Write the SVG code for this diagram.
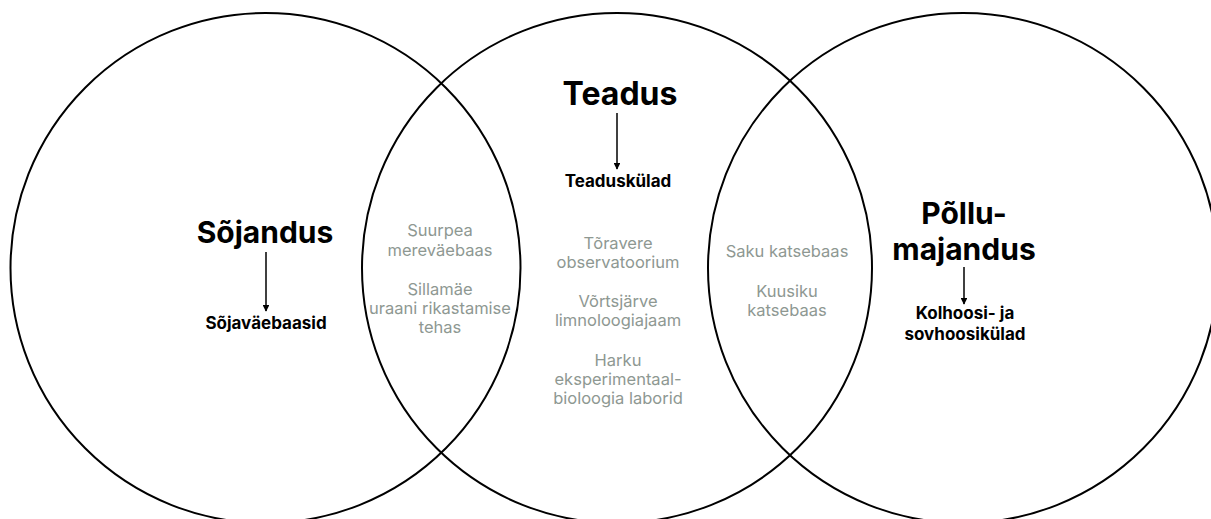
<svg xmlns="http://www.w3.org/2000/svg" width="1211" height="519" viewBox="0 0 1211 519">
<style>
.ring{fill:none;stroke:#000;stroke-width:2}
.head{font-family:Inter,"Liberation Sans",sans-serif;font-weight:700;font-size:30px;fill:#000;text-anchor:middle}
.sub{font-family:Inter,"Liberation Sans",sans-serif;font-weight:700;font-size:17px;fill:#000;text-anchor:middle}
.item{font-family:Inter,"Liberation Sans",sans-serif;font-weight:400;font-size:16.5px;fill:#8e9892;text-anchor:middle}
.arr{stroke:#000;stroke-width:1.5;fill:none;marker-end:url(#ah)}
</style>
<defs>
<marker id="ah" viewBox="0 0 10 10" refX="9" refY="5" markerWidth="4.5" markerHeight="4.5" orient="auto" markerUnits="strokeWidth">
<path d="M0,0 L10,5 L0,10 Z" fill="#000"/>
</marker>
</defs>
<rect width="1211" height="519" fill="#fff"/>
<g id="circle-sojandus"><circle class="ring" cx="265.5" cy="268" r="255"/></g>
<g id="circle-teadus"><circle class="ring" cx="617" cy="268" r="255"/></g>
<g id="circle-pollumajandus"><circle class="ring" cx="963" cy="268" r="255"/></g>
<g id="node-sojandus">
<text class="head" x="265" y="243">Sõjandus</text>
</g>
<g id="node-sojavaebaasid">
<text class="sub" x="266" y="329">Sõjaväebaasid</text>
</g>
<g id="node-teadus">
<text class="head" x="620" y="105" style="font-size:32px">Teadus</text>
</g>
<g id="node-teaduskulad">
<text class="sub" x="618" y="187">Teaduskülad</text>
</g>
<g id="node-pollumajandus">
<text class="head" x="964" y="224">Põllu-</text>
<text class="head" x="964" y="260">majandus</text>
</g>
<g id="node-kolhoosikulad">
<text class="sub" x="965" y="319">Kolhoosi- ja<tspan x="965" dy="21">sovhoosikülad</tspan></text>
</g>
<g id="items-sojandus-teadus">
<text class="item" x="440" y="236">Suurpea<tspan x="440" dy="20">mereväebaas</tspan></text>
<text class="item" x="440" y="295">Sillamäe<tspan x="440" dy="19">uraani rikastamise</tspan><tspan x="440" dy="19">tehas</tspan></text>
</g>
<g id="items-teadus">
<text class="item" x="618" y="249">Tõravere<tspan x="618" dy="19">observatoorium</tspan></text>
<text class="item" x="618" y="307">Võrtsjärve<tspan x="618" dy="19">limnoloogiajaam</tspan></text>
<text class="item" x="618" y="366">Harku<tspan x="618" dy="19">eksperimentaal-</tspan><tspan x="618" dy="19">bioloogia laborid</tspan></text>
</g>
<g id="items-teadus-pollumajandus">
<text class="item" x="787" y="257">Saku katsebaas</text>
<text class="item" x="787" y="297">Kuusiku<tspan x="787" dy="19">katsebaas</tspan></text>
</g>
<g id="connectors">
<line class="arr" x1="266" y1="252" x2="266" y2="311"/>
<line class="arr" x1="617" y1="113" x2="617" y2="169"/>
<line class="arr" x1="964" y1="267" x2="964" y2="304"/>
</g>
</svg>
